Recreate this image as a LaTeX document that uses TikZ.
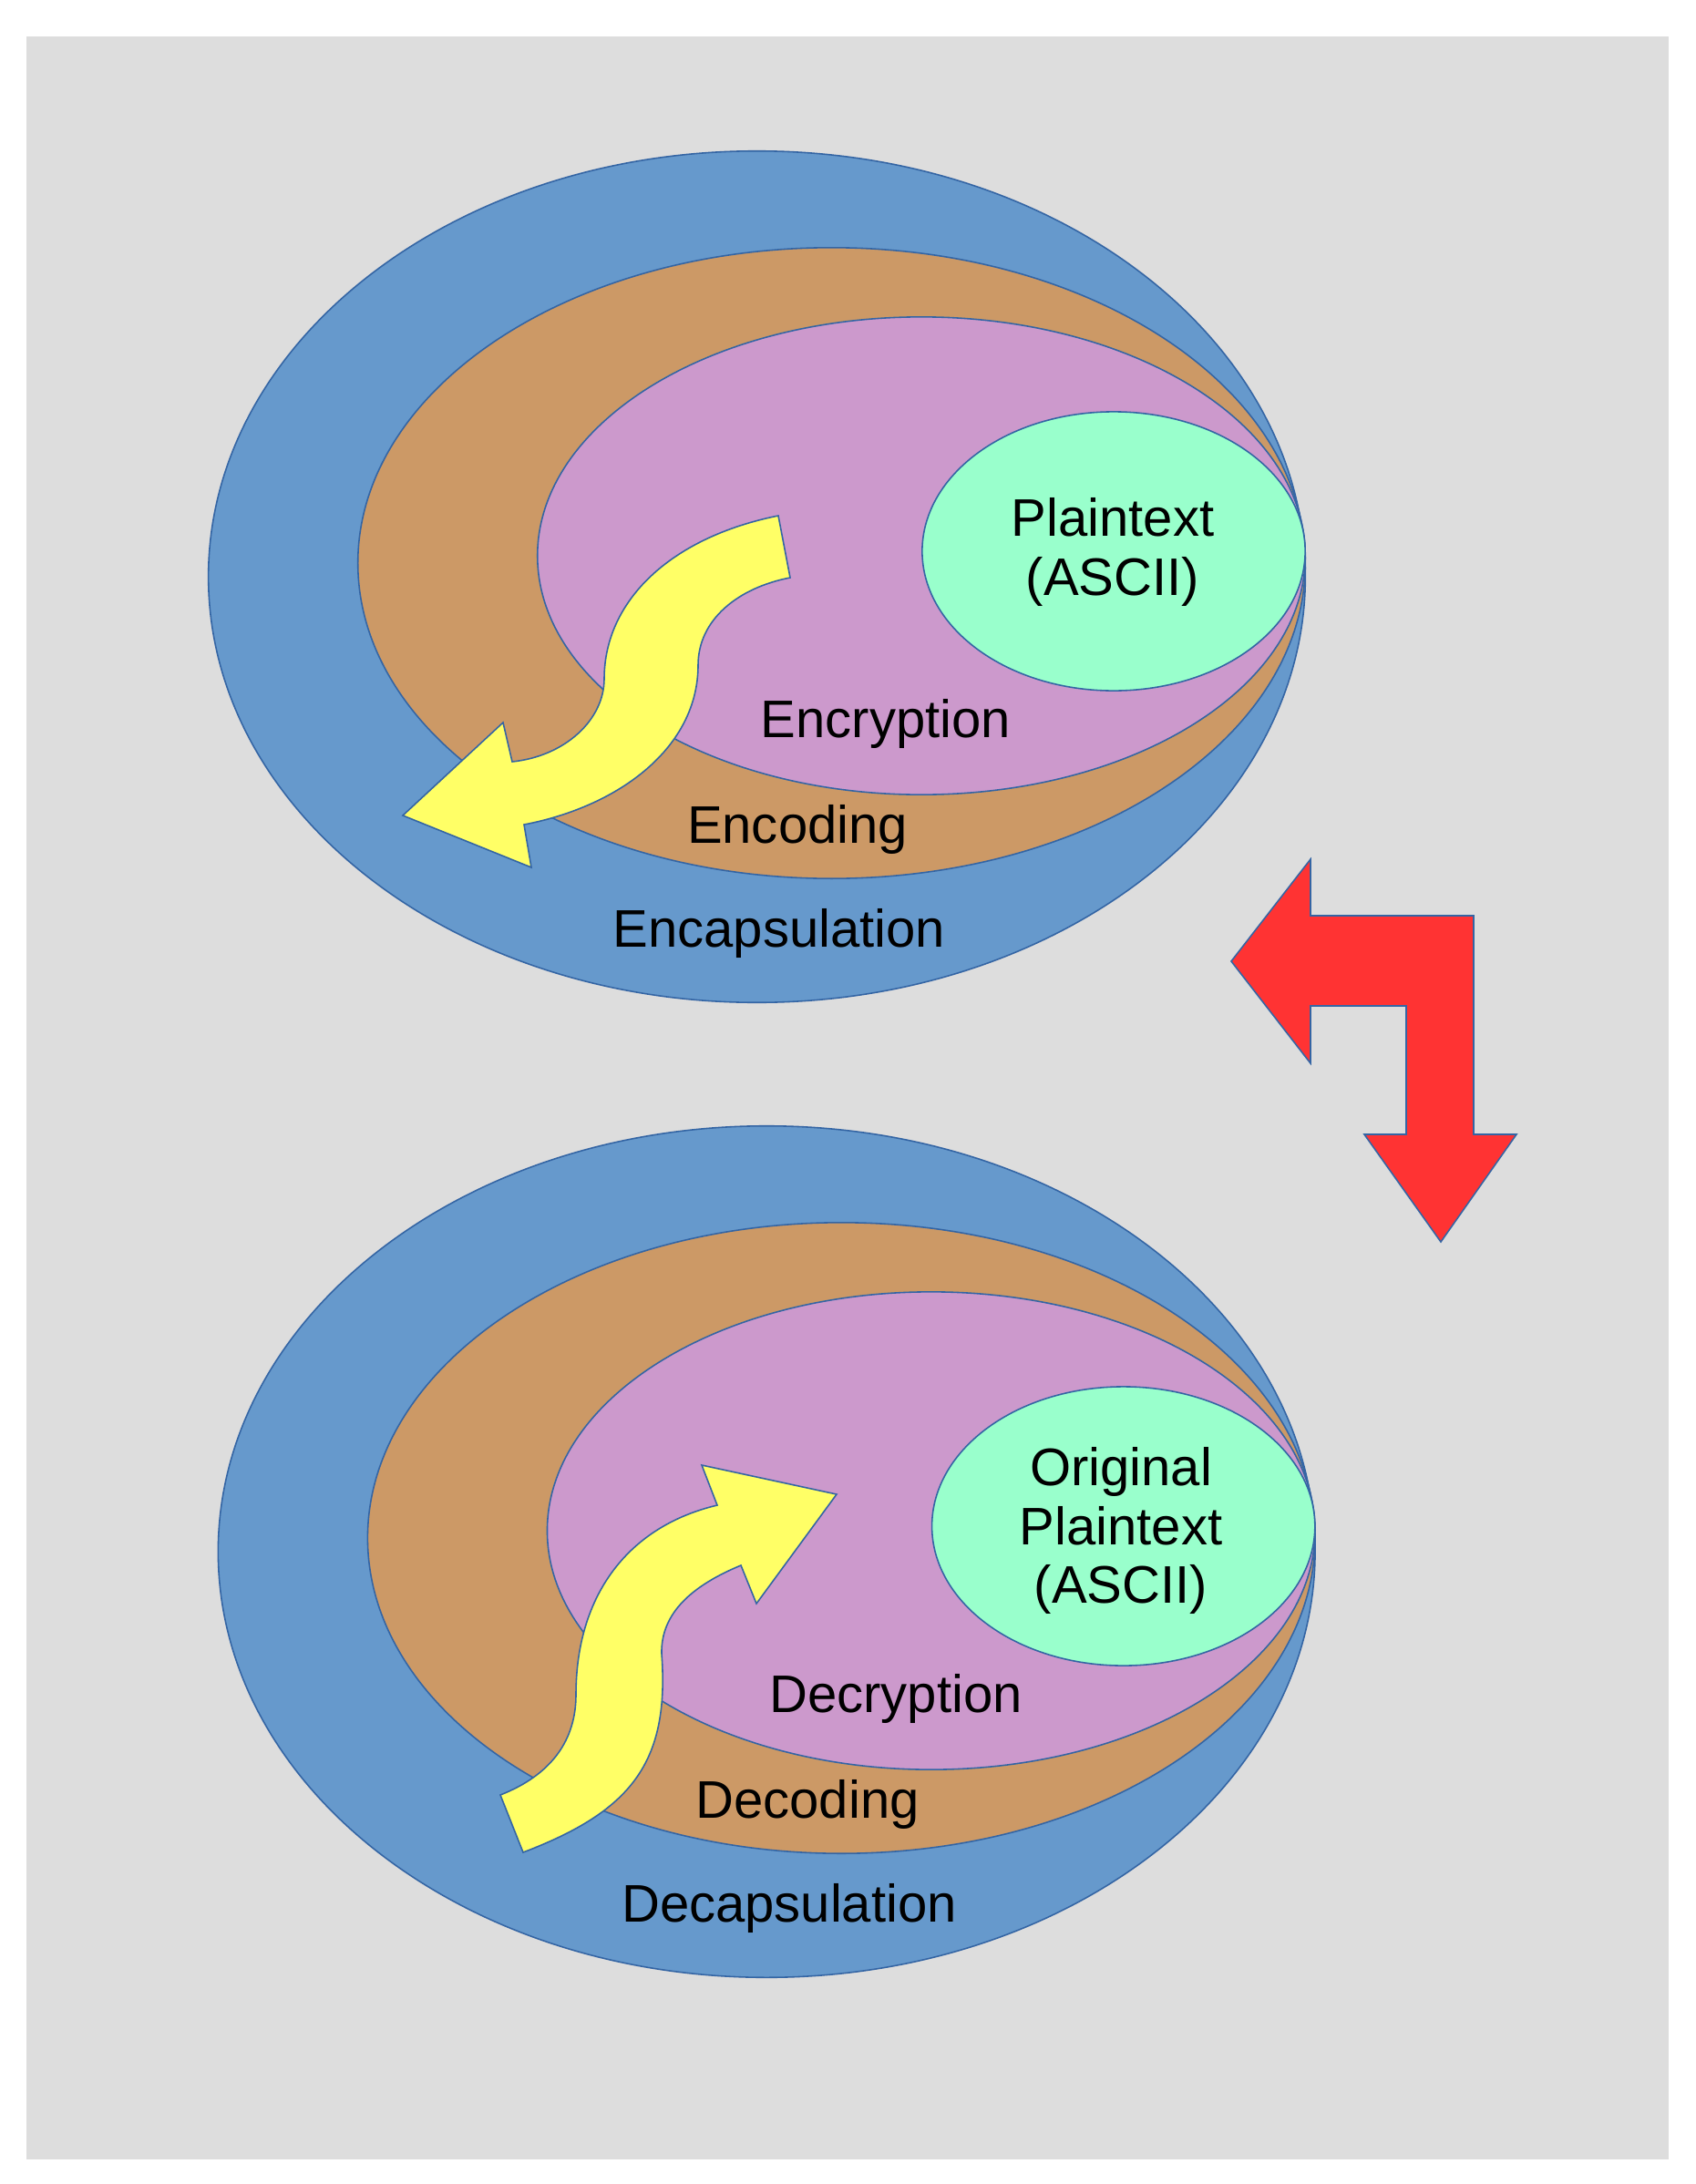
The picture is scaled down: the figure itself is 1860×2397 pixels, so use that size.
\documentclass[tikz,border=0pt]{standalone}
\usepackage{fontspec}
\setmainfont{Liberation Sans}
\definecolor{bg}{HTML}{DDDDDD}
\definecolor{ringA}{HTML}{6699CC}
\definecolor{ringB}{HTML}{CC9966}
\definecolor{ringC}{HTML}{CC99CC}
\definecolor{core}{HTML}{99FFCC}
\definecolor{yel}{HTML}{FFFF66}
\definecolor{redarrow}{HTML}{FF3333}
\definecolor{edge}{HTML}{3465A4}
\begin{document}
\begin{tikzpicture}[x=0.01cm, y=-0.01cm,
  outl/.style={draw=edge, line width=0.45pt, line join=miter},
  lbl/.style={font=\fontsize{16.5}{18.3}\selectfont, inner sep=0pt, align=center, text=black}]
\fill[white] (0,0) rectangle (1860,2397);
\fill[bg] (29,40) rectangle (1831,2370);
\useasboundingbox (0,0) rectangle (1860,2397);

% rings, top and bottom
\foreach \dx/\dy in {0/0, 10.7/1070}{
\begin{scope}[shift={(\dx,\dy)}]
\path[outl, fill=ringA] (830.5,633) ellipse [x radius=6.015cm, y radius=4.67cm];
\path[outl, fill=ringB] (912.5,618) ellipse [x radius=5.195cm, y radius=3.46cm];
\path[outl, fill=ringC] (1011,610) ellipse [x radius=4.21cm, y radius=2.62cm];
\path[outl, fill=core] (1222,605) ellipse [x radius=2.10cm, y radius=1.53cm];
\end{scope}
}

% yellow S arrow, top (outward)
\draw[outl, fill=yel] (854,566) .. controls (735,590) and (663,660) .. (663,745)
  .. controls (663,790) and (620,830) .. (562,836) -- (552,793) -- (442,895) -- (583,952) -- (575,905)
  .. controls (680,885) and (766,820) .. (766,730)
  .. controls (766,680) and (810,645) .. (867,634) -- cycle;

% yellow S arrow, bottom (inward)
\draw[outl, fill=yel] (549,1970) .. controls (605,1948) and (632,1910) .. (632,1860)
  .. controls (632,1750) and (690,1675) .. (787,1652) -- (770,1608) -- (918,1640) -- (830,1760) -- (813,1718)
  .. controls (760,1740) and (725,1770) .. (726,1815)
  .. controls (735,1935) and (692,1988) .. (574,2033) -- cycle;

% red bent arrow
\draw[outl, fill=redarrow] (1351,1055) -- (1438,943) -- (1438,1005) -- (1617,1005) -- (1617,1245)
  -- (1664,1245) -- (1581,1363) -- (1497,1245) -- (1543,1245) -- (1543,1104) -- (1438,1104)
  -- (1438,1167) -- cycle;

% labels
\node[lbl] (ptTop) at (1221,606) {Plaintext\\(ASCII)};
\node[lbl, anchor=base] (encr) at (972,809) {Encryption};
\node[lbl, anchor=base] (enco) at (875,925) {Encoding};
\node[lbl, anchor=base] (enca) at (855,1039) {Encapsulation};

\node[lbl] (ptBot) at (1230,1680) {Original\\Plaintext\\(ASCII)};
\node[lbl, anchor=base] (decr) at (983,1879) {Decryption};
\node[lbl, anchor=base] (deco) at (886,1995) {Decoding};
\node[lbl, anchor=base] (deca) at (866,2109) {Decapsulation};
\end{tikzpicture}
\end{document}
